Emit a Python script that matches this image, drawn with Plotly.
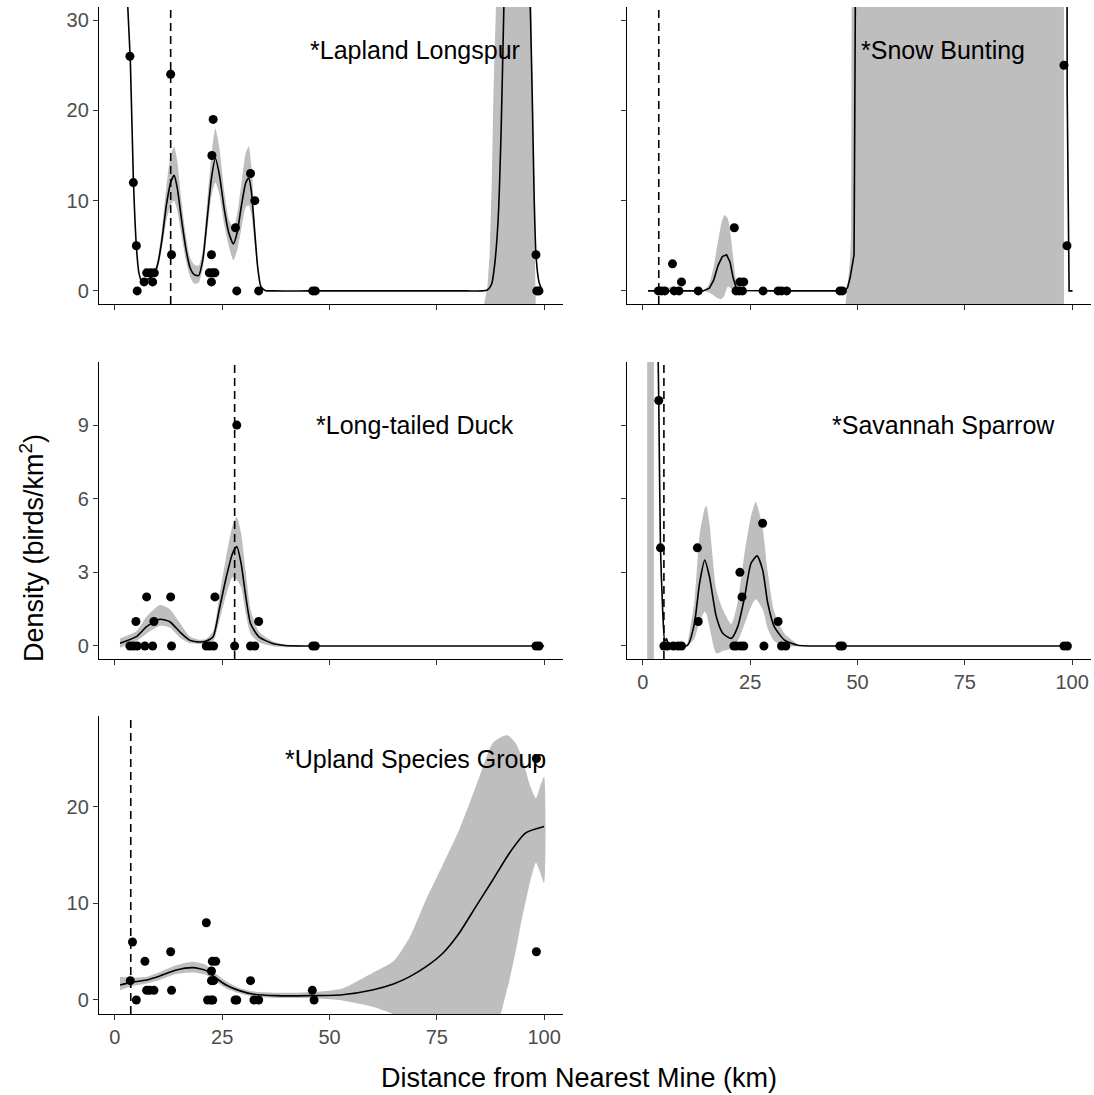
import plotly.graph_objects as go

# ---------------- data ----------------
# Lapland Longspur
LL_pts_x = [3.5, 4.3, 5.0, 5.2, 6.8, 7.4, 8.3, 8.8, 9.2, 13.0, 13.2, 22.9, 22.6, 22.5, 22.0, 22.8, 23.3, 22.5,
            28.1, 28.4, 31.6, 32.6, 33.5, 46.1, 46.7, 98.1, 98.3, 98.8]
LL_pts_y = [26, 12, 5, 0, 1, 2, 2, 1, 2, 24, 4, 19, 15, 4, 2, 2, 2, 1,
            7, 0, 13, 10, 0, 0, 0, 4, 0, 0]
LL_fit_x = [1.5, 2.3, 3.0, 3.6, 4.3, 5.0, 5.6, 6.3, 7.0, 8.0, 9.0, 10.0, 11.0, 12.0, 13.0, 13.8, 14.5, 15.5,
            16.5, 17.5, 18.5, 19.5, 20.5, 21.5, 22.5, 23.4, 24.3, 25.5, 26.5, 27.6, 28.5, 29.5, 30.5, 31.2,
            31.8, 32.5, 33.3, 34.0, 35.0, 37.0, 45.0, 55.0, 65.0, 75.0, 82.0, 85.5, 86.8, 87.8, 88.5, 89.3,
            90.0, 90.6, 91.5, 93.5, 95.5, 96.8, 97.3, 97.7, 98.1, 98.8, 99.5]
LL_fit_y = [80, 45, 31.5, 25.5, 12.5, 5.0, 2.0, 1.0, 1.1, 1.4, 1.7, 3.0, 5.8, 9.5, 12.0, 12.8, 11.5, 8.0,
            4.8, 2.6, 1.8, 1.7, 3.5, 8.0, 12.5, 14.7, 13.0, 9.0, 6.5, 5.2, 6.5, 9.5, 12.0, 12.5,
            11.0, 7.0, 2.5, 0.5, 0.05, 0.0, 0.0, 0.0, 0.0, 0.0, 0.0, 0.0, 0.1, 0.8, 3.0, 8.0,
            18.0, 31.0, 50.0, 70.0, 50.0, 31.0, 20.0, 10.0, 4.0, 1.0, 0.1]
LL_band1_x = [9.0, 10.0, 11.0, 12.0, 13.0, 13.8, 14.5, 15.5, 16.5, 17.5, 18.5, 19.5, 20.5, 21.5, 22.5, 23.4,
              24.3, 25.5, 26.5, 27.6, 28.5, 29.5, 30.5, 31.2, 31.8, 32.5, 33.3, 34.0]
LL_band1_lo = [1.6, 2.5, 4.8, 7.8, 9.5, 10.0, 9.0, 6.2, 3.5, 1.6, 0.8, 0.9, 2.6, 6.5, 10.5, 12.0,
               10.8, 7.3, 5.0, 3.4, 4.5, 7.0, 9.3, 9.5, 8.5, 5.5, 2.0, 0.4]
LL_band1_hi = [1.8, 3.6, 7.0, 11.5, 15.0, 16.0, 14.5, 10.0, 6.3, 3.7, 2.9, 2.8, 4.6, 9.8, 15.0, 18.0,
               16.0, 11.0, 8.0, 7.0, 8.5, 12.0, 15.3, 16.0, 13.8, 8.5, 3.0, 0.6]
LL_band2_x = [86.0, 86.8, 87.3, 87.8, 88.2, 88.5, 89.5, 93.0, 96.0, 96.9, 97.3, 97.7, 98.1]
LL_band2_lo = [-3, -3, -3, -3, -3, -3, -3, -3, -3, -3, -3, -3, -3]
LL_band2_hi = [-1.5, 0.5, 4.0, 12.0, 22.0, 32.0, 80.0, 100.0, 80.0, 32.0, 20.0, 8.0, -1.5]
LL_vline = 13.0

# Snow Bunting
SB_pts_x = [3.6, 4.3, 5.1, 6.9, 7.3, 8.4, 9.0, 12.9, 21.3, 21.7, 22.4, 23.2, 22.6, 23.5, 28.0,
            31.5, 32.3, 33.5, 45.9, 46.5, 98.1, 98.8]
SB_pts_y = [0, 0, 0, 3, 0, 0, 1, 0, 7, 0, 0, 0, 1, 1, 0,
            0, 0, 0, 0, 0, 25, 5]
SB_fit_x = [1.2, 14.0, 15.5, 16.5, 17.5, 18.5, 19.5, 20.3, 21.0, 21.7, 22.5, 30.0, 47.0, 47.7, 48.3, 48.9,
            49.2, 49.5, 50.0, 98.7, 98.8, 98.85, 99.3, 100.1]
SB_fit_y = [0, 0, 0.3, 1.2, 2.8, 3.8, 4.0, 3.2, 1.5, 0.4, 0.05, 0, 0, 0.4, 1.5, 3.0,
            4.0, 32.0, 80.0, 80.0, 31.0, 22.0, 0, 0]
SB_band1_x = [5.0, 6.0, 7.0, 8.0, 9.0]
SB_band1_lo = [0, -0.1, -0.1, 0, 0]
SB_band1_hi = [0, 0.4, 0.5, 0.2, 0]
SB_band2_x = [14.5, 15.5, 16.5, 17.5, 18.3, 19.0, 19.8, 20.5, 21.2, 21.8, 22.5]
SB_band2_lo = [0, -0.2, -0.5, -0.8, -0.9, -0.5, 0.5, 0.3, -0.2, -0.2, 0]
SB_band2_hi = [0, 0.8, 2.7, 5.5, 7.5, 8.4, 8.0, 6.0, 3.0, 0.8, 0.1]
SB_band3_x = [47.2, 47.6, 48.2, 48.5, 48.6, 49.0, 97.9, 98.1]
SB_band3_lo = [-3, -3, -3, -3, -3, -3, -3, -3]
SB_band3_hi = [-1.5, 0.5, 3.0, 6.0, 31.0, 100.0, 100.0, 100.0]
SB_vline = 3.7

# Long-tailed Duck
LTD_pts_x = [3.5, 4.3, 5.2, 4.9, 7.0, 7.4, 8.8, 9.1, 13.0, 13.2, 21.3, 22.1, 23.0, 23.3, 27.9, 28.4,
             31.6, 32.6, 33.5, 46.1, 46.7, 98.1, 98.8]
LTD_pts_y = [0, 0, 0, 1, 0, 2, 0, 1, 2, 0, 0, 0, 0, 2, 0, 9,
             0, 0, 1, 0, 0, 0, 0]
LTD_fit_x = [1.2, 5.0, 7.4, 10.5, 12.8, 15.1, 17.4, 19.8, 21.3, 22.9, 24.3, 25.8, 27.4, 28.4, 29.4, 30.5,
             31.6, 33.5, 36.6, 39.7, 45.0, 60.0, 80.0, 100.0]
LTD_fit_y = [0.11, 0.38, 0.79, 1.09, 0.99, 0.58, 0.24, 0.16, 0.2, 0.38, 1.47, 2.69, 3.77, 4.05, 3.37, 2.01,
             0.92, 0.38, 0.11, 0.02, 0.0, 0.0, 0.0, 0.0]
LTD_band_lo = [-0.07, 0.2, 0.5, 0.82, 0.75, 0.35, 0.12, 0.08, 0.1, 0.2, 1.0, 2.0, 2.8, 2.7, 2.4, 1.3,
               0.5, 0.15, 0.0, -0.05, 0.0, 0.0, 0.0, 0.0]
LTD_band_hi = [0.31, 0.6, 1.2, 1.67, 1.5, 0.95, 0.4, 0.25, 0.3, 0.6, 2.0, 3.5, 4.9, 5.25, 4.6, 3.0,
               1.5, 0.6, 0.2, 0.05, 0.0, 0.0, 0.0, 0.0]
LTD_vline = 27.9

# Savannah Sparrow
SS_pts_x = [3.7, 4.1, 4.9, 5.7, 7.1, 8.2, 9.0, 12.7, 12.9, 21.2, 21.8, 22.8, 23.5, 22.6, 23.1, 27.9, 28.2,
            31.5, 32.3, 33.3, 45.9, 46.5, 98.1, 98.9]
SS_pts_y = [10, 4, 0, 0, 0, 0, 0, 4, 1, 0, 0, 0, 0, 3, 2, 5, 0,
            1, 0, 0, 0, 0, 0, 0]
SS_fit_x = [3.45, 3.7, 4.1, 4.6, 5.1, 5.5, 6.0, 10.4, 12.0, 13.2, 14.4, 15.5, 17.1, 18.6, 20.6, 22.1, 23.7,
            25.2, 26.6, 27.9, 29.1, 30.6, 33.0, 36.1, 45.0, 60.0, 80.0, 99.6]
SS_fit_y = [13.0, 10.0, 4.0, 1.5, 0.2, 0.3, 0.05, 0.03, 0.92, 2.55, 3.5, 2.83, 1.2, 0.52, 0.31, 0.79, 2.0,
            3.37, 3.67, 3.1, 1.74, 0.79, 0.24, 0.03, 0.0, 0.0, 0.0, 0.0]
SS_band1_x = [1.0, 2.56]
SS_band1_lo = [-1, -1]
SS_band1_hi = [20, 20]
SS_band2_x = [10.4, 12.0, 13.2, 14.4, 14.8, 15.5, 17.1, 18.6, 20.6, 22.1, 23.7, 25.2, 26.3, 27.9, 29.1,
              30.6, 33.0, 36.1]
SS_band2_lo = [0.0, 0.3, 1.0, 1.4, 1.3, 0.8, -0.3, -0.2, -0.1, 0.2, 0.9, 1.6, 1.9, 1.5, 0.7,
               0.2, 0.0, 0.0]
SS_band2_hi = [0.1, 1.8, 4.5, 5.6, 5.71, 5.0, 2.3, 1.5, 0.9, 1.8, 3.8, 5.3, 5.88, 4.8, 3.0,
               1.4, 0.5, 0.05]
SS_vline = 4.9

# Upland Species Group
UP_pts_x = [3.6, 4.1, 5.0, 7.0, 7.4, 8.1, 9.1, 13.0, 13.2, 21.3, 21.6, 22.4, 22.8, 22.5, 22.5, 23.0, 22.7, 23.5,
            28.0, 28.4, 31.6, 32.4, 33.5, 46.0, 46.4, 98.2, 98.2]
UP_pts_y = [2, 6, 0, 4, 1, 1, 1, 5, 1, 8, 0, 0, 0, 3, 2, 2, 4, 4,
            0, 0, 2, 0, 0, 1, 0, 5, 25]
UP_fit_x = [1.2, 3.6, 7.4, 10.5, 14.3, 18.2, 21.3, 23.6, 25.9, 29.0, 32.1, 37.5, 45.3, 53.0, 60.0, 64.9,
            68.7, 72.5, 76.4, 80.2, 84.1, 88.0, 91.9, 95.7, 100.0]
UP_fit_y = [1.55, 1.8, 2.07, 2.49, 3.1, 3.35, 3.04, 2.25, 1.55, 0.97, 0.62, 0.45, 0.45, 0.55, 1.04, 1.66,
            2.42, 3.45, 4.84, 6.91, 9.67, 12.4, 15.2, 17.3, 17.96]
UP_band_x = [1.2, 3.6, 7.4, 10.5, 14.3, 18.2, 21.3, 23.6, 25.9, 29.0, 32.1, 37.5, 45.3, 53.0, 60.0, 64.9,
             68.7, 72.5, 76.4, 80.2, 84.1, 88.0, 89.9, 91.2, 91.9, 93.5, 94.2, 95.0, 96.0, 96.5, 98.1, 99.0, 100.0]
UP_band_lo = [1.0, 1.4, 1.7, 2.1, 2.7, 2.85, 2.6, 1.85, 1.2, 0.7, 0.35, 0.2, 0.2, -0.05, -0.7, -1.5,
              -3, -5, -7, -10, -10, -4, -1.45, 0.8, 2.0, 5.3, 7.0, 8.8, 10.8, 11.8, 14.2, 13.3, 12.1]
UP_band_hi = [2.4, 2.3, 2.4, 2.9, 3.6, 3.95, 3.6, 2.7, 1.95, 1.25, 0.9, 0.75, 0.8, 1.2, 2.8, 4.0,
              6.5, 10.4, 14.0, 17.6, 22.1, 26.6, 27.2, 27.4, 27.3, 26.5, 25.8, 24.9, 23.3, 22.5, 20.9, 22.0, 23.1]
UP_vline = 3.7

PANEL_TITLES = ["*Lapland Longspur", "*Snow Bunting", "*Long-tailed Duck", "*Savannah Sparrow",
                "*Upland Species Group"]
TITLE_Y = [26.7, 26.7, 9.0, 9.0, 24.9]
ROW_TICKS = [[0, 10, 20, 30], [0, 3, 6, 9], [0, 10, 20]]
X_TICKS = [0, 25, 50, 75, 100]

# ---------------- figure ----------------
FONT = "Liberation Sans, Arial, Helvetica, sans-serif"
BAND = "#BEBEBE"
W, H = 1094, 1095

fig = go.Figure()


def band(ax, xs, lo, hi, smooth=True):
    line = dict(width=0, shape="spline", smoothing=0.6) if smooth else dict(width=0)
    fig.add_trace(go.Scatter(
        x=list(xs) + list(xs)[::-1], y=list(hi) + list(lo)[::-1],
        fill="toself", fillcolor=BAND, line=line, mode="lines",
        hoverinfo="skip", showlegend=False, xaxis="x" + ax, yaxis="y" + ax))


def fitline(ax, xs, ys, smooth=True):
    line = dict(color="black", width=1.6)
    if smooth:
        line.update(shape="spline", smoothing=0.6)
    fig.add_trace(go.Scatter(x=xs, y=ys, mode="lines", line=line,
                             showlegend=False, xaxis="x" + ax, yaxis="y" + ax))


def points(ax, xs, ys):
    fig.add_trace(go.Scatter(x=xs, y=ys, mode="markers",
                             marker=dict(color="black", size=9, line=dict(width=0)),
                             showlegend=False, xaxis="x" + ax, yaxis="y" + ax))


# panel 1
band("", LL_band1_x, LL_band1_lo, LL_band1_hi)
band("", LL_band2_x, LL_band2_lo, LL_band2_hi, smooth=False)
fitline("", LL_fit_x, LL_fit_y)
points("", LL_pts_x, LL_pts_y)
# panel 2
band("2", SB_band1_x, SB_band1_lo, SB_band1_hi)
band("2", SB_band2_x, SB_band2_lo, SB_band2_hi)
band("2", SB_band3_x, SB_band3_lo, SB_band3_hi, smooth=False)
fitline("2", SB_fit_x, SB_fit_y, smooth=False)
points("2", SB_pts_x, SB_pts_y)
# panel 3
band("3", LTD_fit_x, LTD_band_lo, LTD_band_hi)
fitline("3", LTD_fit_x, LTD_fit_y)
points("3", LTD_pts_x, LTD_pts_y)
# panel 4
band("4", SS_band1_x, SS_band1_lo, SS_band1_hi, smooth=False)
band("4", SS_band2_x, SS_band2_lo, SS_band2_hi)
fitline("4", SS_fit_x, SS_fit_y)
points("4", SS_pts_x, SS_pts_y)
# panel 5
band("5", UP_band_x, UP_band_lo, UP_band_hi)
fitline("5", UP_fit_x, UP_fit_y)
points("5", UP_pts_x, UP_pts_y)

# domains (pixels -> paper)
colx = [(99 / W, 563 / W), (627 / W, 1091 / W)]
rowy = [(1 - 304 / H, 1 - 7 / H), (1 - 659 / H, 1 - 362 / H), (1 - 1014 / H, 1 - 716 / H)]
yranges = [[-1.45, 31.45], [-0.53, 11.57], [-1.45, 29.4]]

panels = [(0, 0, False, True), (0, 1, False, False), (1, 0, False, True), (1, 1, True, False), (2, 0, True, True)]
vlines = [LL_vline, SB_vline, LTD_vline, SS_vline, UP_vline]

layout = dict(
    width=W, height=H, margin=dict(l=0, r=0, t=0, b=0),
    paper_bgcolor="white", plot_bgcolor="white", showlegend=False,
    font=dict(family=FONT, color="black"),
)
shapes = []
annotations = []
for i, (r, c, xlab, ylab) in enumerate(panels):
    sfx = "" if i == 0 else str(i + 1)
    layout["xaxis" + sfx] = dict(
        domain=list(colx[c]), range=[-3.7, 104.4], anchor="y" + sfx,
        tickvals=X_TICKS, ticktext=[str(v) for v in X_TICKS], showticklabels=xlab,
        ticks="outside", ticklen=5, tickwidth=1.1, tickcolor="#333333",
        showline=True, linecolor="black", linewidth=1.3,
        showgrid=False, zeroline=False,
        tickfont=dict(size=20, color="#4D4D4D", family=FONT))
    layout["yaxis" + sfx] = dict(
        domain=list(rowy[r]), range=yranges[r], anchor="x" + sfx,
        tickvals=ROW_TICKS[r], ticktext=[str(v) for v in ROW_TICKS[r]], showticklabels=ylab,
        ticks="outside", ticklen=5, tickwidth=1.1, tickcolor="#333333",
        showline=True, linecolor="black", linewidth=1.3,
        showgrid=False, zeroline=False,
        tickfont=dict(size=20, color="#4D4D4D", family=FONT))
    shapes.append(dict(type="line", xref="x" + sfx, yref="y" + sfx + " domain",
                       x0=vlines[i], x1=vlines[i], y0=0, y1=1,
                       line=dict(color="black", width=1.6, dash="8px,5px")))
    annotations.append(dict(xref="x" + sfx, yref="y" + sfx, x=70, y=TITLE_Y[i],
                            text=PANEL_TITLES[i], showarrow=False, xanchor="center", yanchor="middle",
                            font=dict(size=25, color="black", family=FONT)))

annotations.append(dict(xref="paper", yref="paper", x=579 / W, y=1 - 1078 / H,
                        text="Distance from Nearest Mine (km)", showarrow=False,
                        xanchor="center", yanchor="middle", font=dict(size=27, color="black", family=FONT)))
annotations.append(dict(xref="paper", yref="paper", x=32 / W, y=1 - 548 / H,
                        text="Density (birds/km<sup>2</sup>)", showarrow=False, textangle=-90,
                        xanchor="center", yanchor="middle", font=dict(size=27, color="black", family=FONT)))
layout["shapes"] = shapes
layout["annotations"] = annotations
fig.update_layout(**layout)

fig.write_html("out.html", config={"displayModeBar": False})

# remove the default page margin so the figure sits at the window's top-left corner
with open("out.html", "r", encoding="utf-8") as f:
    html = f.read()
html = html.replace("<head>", "<head><style>html,body{margin:0;padding:0;overflow:hidden;}</style>", 1)
with open("out.html", "w", encoding="utf-8") as f:
    f.write(html)
